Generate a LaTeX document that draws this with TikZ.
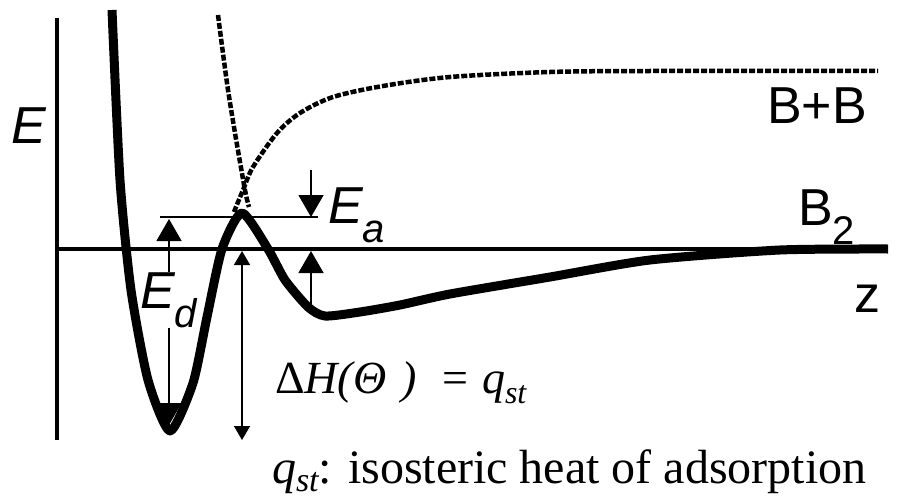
\documentclass[tikz,border=0pt]{standalone}
\usepackage{fontspec}
\setmainfont{Liberation Serif}
\newfontfamily\labelfont{Liberation Sans}
\usetikzlibrary{arrows.meta}
\newcommand{\lowidx}[1]{\raisebox{-0.37em}{\fontsize{40}{40}\selectfont #1}}

\begin{document}
\begin{tikzpicture}[x=1pt, y=-1pt,
  every node/.style={inner sep=0pt, outer sep=0pt},
  axisline/.style={line width=4.5pt},
  potline/.style={line width=9pt, line join=round},
  freeline/.style={line width=4.5pt, dash pattern=on 6pt off 2pt},
  guide/.style={line width=1.5pt},
  bigtip/.style={line width=1.5pt, -{Triangle[length=22pt, width=25pt]}},
  heattip/.style={line width=1.5pt, {Triangle[length=14pt, width=16pt]}-{Triangle[length=14pt, width=16pt]}},
  sym/.style={font=\labelfont\fontsize{52}{52}\selectfont},
  caption/.style={font=\fontsize{46}{46}\selectfont}]
  \useasboundingbox (0,0) rectangle (902,503);

  % axes
  \draw[axisline] (57,18) -- (57,440);
  \draw[axisline] (57,249) -- (888,249);
  \node[sym, anchor=base] (Eaxis) at (29,143) {\itshape E};
  \node[sym, anchor=base] (zaxis) at (867,312) {z};

  % level of the barrier top
  \coordinate (barL) at (160,217);
  \coordinate (barR) at (318,217);
  \draw[guide] (barL) -- (barR);

  % free atoms B+B (dashed)
  \draw[freeline] plot[smooth, tension=0.5] coordinates {(218,15) (227,83) (235,133) (245,190) (249,207)};
  \draw[freeline] plot[smooth, tension=0.5] coordinates {(234,212) (243,190) (253,167) (277,133) (300,113) (333,97) (383,86) (450,77) (550,72) (650,71) (878,71)};
  \node[sym, anchor=base] (BB) at (817,123) {B+B};

  % molecule B2 potential
  \draw[potline] plot[smooth, tension=0.4] coordinates {(112,10) (120,180) (131,290) (148,380) (170,431) (193,383) (207,317) (222,249) (242,213) (268,249) (285,280) (308,307) (325,316) (360,312) (400,305) (450,294) (550,277) (650,260) (780,250) (888,249)};
  \node[sym, anchor=base west] (B2) at (798,225) {B\lowidx{2}};

  % dissociation energy
  \node[sym, anchor=base west] (Ed) at (140,308) {\itshape E\lowidx{d}};
  \coordinate (Edtop) at (169,219);
  \coordinate (Edbot) at (169,425);
  \draw[bigtip] (Ed.north -| Edtop) -- (Edtop);
  \draw[bigtip] (Ed.south -| Edbot) -- (Edbot);

  % activation energy
  \node[sym, anchor=base west] (Ea) at (328,223) {\itshape E\lowidx{a}};
  \coordinate (Eahi) at (311,170);
  \coordinate (Eatop) at (311,217);
  \coordinate (Ealo) at (311,310);
  \coordinate (Eabot) at (311,251);
  \draw[bigtip] (Eahi) -- (Eatop);
  \draw[bigtip] (Ealo) -- (Eabot);

  % heat of adsorption
  \coordinate (qtop) at (242,251);
  \coordinate (qbot) at (242,440);
  \draw[heattip] (qtop) -- (qbot);
  \node[caption, anchor=base west] (dH) at (275,393) {Δ\textit{H(Θ\,\,)}\hspace{0.55em}=\hspace{0.3em}\textit{q}\raisebox{-0.22em}{\fontsize{32}{32}\selectfont\itshape st}};
  \node[font=\fontsize{48}{48}\selectfont, anchor=base west] (qst) at (272,483) {\textit{q}\raisebox{-0.18em}{\fontsize{34}{34}\selectfont\itshape st}: isosteric heat of adsorption};
\end{tikzpicture}
\end{document}
